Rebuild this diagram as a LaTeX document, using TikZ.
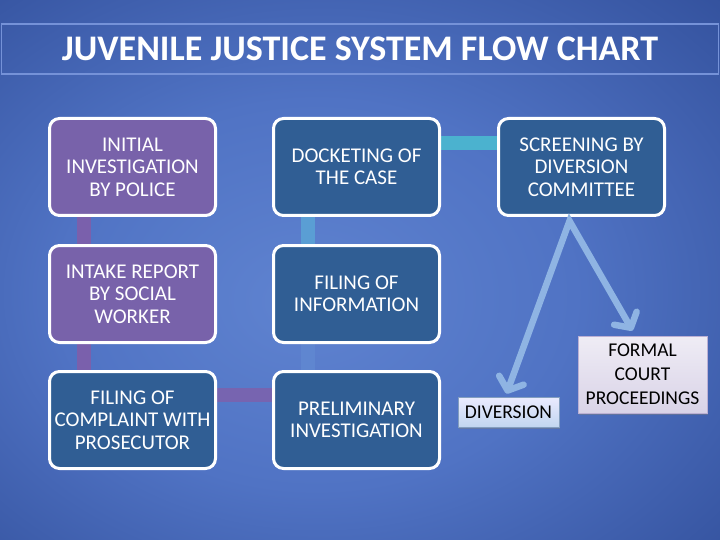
\documentclass[tikz,border=0pt]{standalone}
\usepackage{fontspec}
\setmainfont{Carlito}
\usepackage{xcolor}
\usetikzlibrary{arrows.meta, positioning, calc, backgrounds, shadows}

\definecolor{stagepurple}{HTML}{7862AA}
\definecolor{stageblue}{HTML}{305E94}
\definecolor{barpurple}{HTML}{7A60AC}
\definecolor{barteal}{HTML}{4BB2CF}
\definecolor{barsky}{HTML}{5A9ED4}
\definecolor{barfaint}{HTML}{5F86D0}
\definecolor{splitblue}{HTML}{8FB4E3}
\definecolor{bandline}{HTML}{7592D8}

\pgfdeclareradialshading{slidebg}{\pgfpoint{-4bp}{-3bp}}{%
    color(0bp)=(rgb,255:red,95;green,131;blue,208);
    color(18bp)=(rgb,255:red,80;green,115;blue,196);
    color(38bp)=(rgb,255:red,52;green,82;blue,158);
    color(52bp)=(rgb,255:red,32;green,55;blue,120);
    color(75bp)=(rgb,255:red,20;green,36;blue,90)}

\begin{document}
\begin{tikzpicture}[x=1pt, y=1pt,
    stage/.style={draw=white, line width=3pt, rounded corners=10pt, minimum width=166pt,
        minimum height=97pt, inner sep=2pt, align=center, text=white,
        font=\fontsize{21}{22.5}\selectfont},
    police/.style={stage, fill=stagepurple},
    court/.style={stage, fill=stageblue},
    outcome/.style={line width=0.8pt, align=center, text=black, inner sep=2pt,
        font=\fontsize{19.5}{24}\selectfont,
        drop shadow={shadow xshift=1pt, shadow yshift=-2pt, opacity=0.45}},
    bar/.style={line width=14pt},
    split/.style={draw=splitblue, line width=6.5pt,
        {Straight Barb[round, length=11pt, width=26pt]}-{Straight Barb[round, length=11pt, width=26pt]}}]
    \useasboundingbox (0,0) rectangle (720,-540);

    \node[font=\fontsize{36}{40}\selectfont\bfseries, text=white] (title) at (360,-49)
        {JUVENILE JUSTICE SYSTEM FLOW CHART};

    \node[police] (police) at (132.5,-167) {INITIAL\\INVESTIGATION\\BY POLICE};
    \node[police, below=27pt of police] (intake) {INTAKE REPORT\\BY SOCIAL\\WORKER};
    \node[court, below=26pt of intake] (complaint) {FILING OF\\COMPLAINT WITH\\PROSECUTOR};
    \node[court, right=55pt of police] (docket) {DOCKETING OF\\THE CASE};
    \node[court, right=55pt of intake] (info) {FILING OF\\INFORMATION};
    \node[court, right=55pt of complaint] (prelim) {PRELIMINARY\\INVESTIGATION};
    \node[court, right=56pt of docket] (screening) {SCREENING BY\\DIVERSION\\COMMITTEE};

    \node[outcome, draw=stageblue!60, top color=blue!8, bottom color=splitblue!55,
        minimum width=101pt, minimum height=30pt] (diversion) at (508.5,-412) {DIVERSION};
    \node[outcome, draw=stagepurple!50, top color=stagepurple!12, bottom color=stagepurple!28,
        minimum width=129pt, minimum height=77pt] (formal) at (642.5,-374.5) {FORMAL\\COURT\\PROCEEDINGS};

    % screening splits into two outcomes
    \coordinate (fork) at ([xshift=-12pt, yshift=-4pt]screening.south);
    \draw[split] ([xshift=-2pt, yshift=3pt]diversion.north) -- (fork) -- ([xshift=-10pt, yshift=5pt]formal.north);

    \begin{scope}[on background layer]
        \shade[shading=slidebg] (0,0) rectangle (720,-540);
        \draw[bandline, line width=1.2pt] (1.5,-24) rectangle (718.5,-74);
        \draw[bar, barpurple] ([xshift=-49pt]police.center) -- ([xshift=-49pt]complaint.center);
        \draw[bar, barpurple!90!barfaint] ([yshift=25pt]complaint.center) -- ([yshift=25pt]prelim.center);
        \draw[bar, barfaint] ([xshift=-49pt]prelim.center) -- ([xshift=-49pt]info.center);
        \draw[bar, barsky] ([xshift=-49pt]info.center) -- ([xshift=-49pt]docket.center);
        \draw[bar, barteal] ([yshift=24pt]docket.center) -- ([yshift=24pt]screening.center);
    \end{scope}
\end{tikzpicture}
\end{document}
